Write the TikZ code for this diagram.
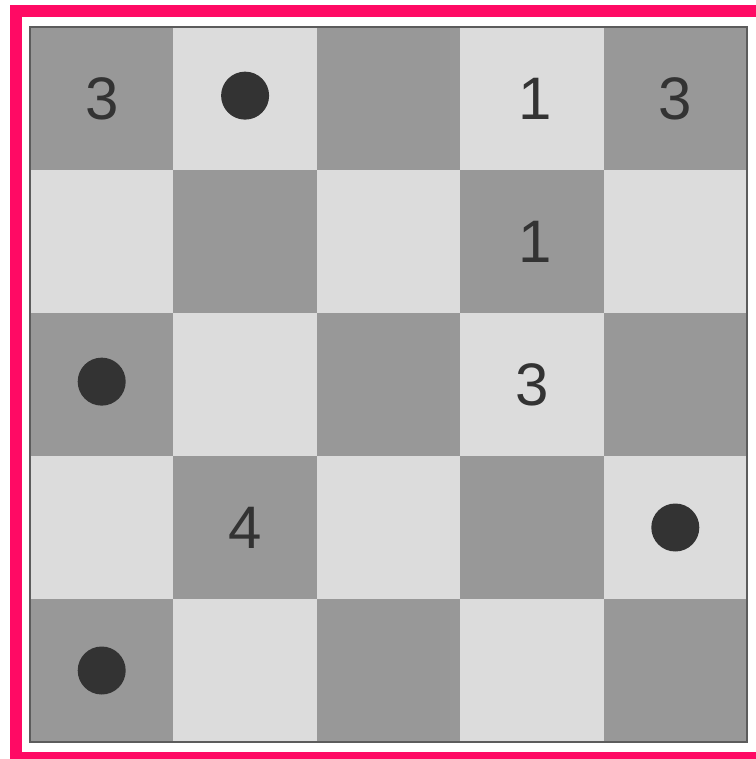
\documentclass[tikz,border=0pt]{standalone}
\usepackage{fontspec}
\setmainfont{Liberation Sans}
\definecolor{framepink}{HTML}{FF0A64}
\definecolor{darkcell}{HTML}{989898}
\definecolor{lightcell}{HTML}{DCDCDC}
\definecolor{ink}{HTML}{333333}
\begin{document}
\begin{tikzpicture}[x=1pt, y=-1pt,
    clue/.style={font=\fontsize{60}{64}\selectfont, text=ink, inner sep=0pt},
    stone/.style={circle, fill=ink, minimum size=48pt, inner sep=0pt}]
  \useasboundingbox (0,0) rectangle (755,759);
  \fill [white] (0,0) rectangle (755,759);

  % Pink frame (its right side runs off the page)
  \draw [framepink, line width=12pt] (16,11) rectangle (775,758);

  % Board, one unit per cell
  \begin{scope}[shift={(30pt,-27pt)}, x=143.4pt, y=-143pt]
    \fill [lightcell] (0,0) rectangle (5,5);
    \foreach \r in {0,...,4} {
      \foreach \c in {0,...,4} {
        \pgfmathtruncatemacro\p{mod(\r+\c,2)}
        \ifnum\p=0
          \fill [darkcell] (\c,\r) rectangle ++(1,1);
        \fi
      }
    }
    \draw [ink!80, line width=1.5pt] (0,0) rectangle (5,5);

    % Numbered clues
    \node [clue] (clue-a) at (0.5,0.5) {3};
    \node [clue] (clue-b) at (3.52,0.5) {1};
    \node [clue] (clue-c) at (4.5,0.5) {3};
    \node [clue] (clue-d) at (3.52,1.5) {1};
    \node [clue] (clue-e) at (3.5,2.5) {3};
    \node [clue] (clue-f) at (1.5,3.5) {4};

    % Stones
    \node [stone] (stone-a) at (1.5,0.48) {};
    \node [stone] (stone-b) at (0.5,2.48) {};
    \node [stone] (stone-c) at (4.5,3.5) {};
    \node [stone] (stone-d) at (0.5,4.5) {};
  \end{scope}
\end{tikzpicture}
\end{document}
